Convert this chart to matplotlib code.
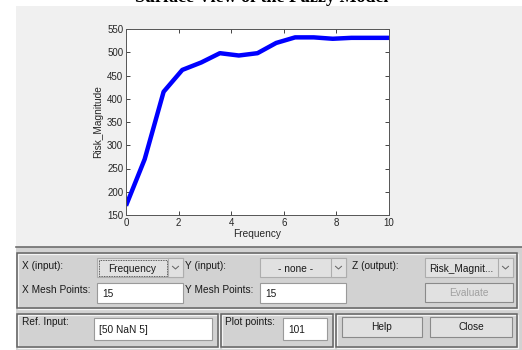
# Surface viewer screenshot: Risk_Magnitude vs Frequency with the control panel below.

import matplotlib
matplotlib.use('Agg')
import matplotlib.pyplot as plt
from matplotlib.patches import Rectangle

# --------------------------- DATA ---------------------------

frequency = [0, 0.71, 1.43, 2.14, 2.86, 3.57, 4.29, 5.0, 5.71, 6.43, 7.14, 7.86, 8.57, 9.29, 10]
risk_magnitude = [170, 270, 415, 462, 478, 498, 493, 498, 520, 532, 532, 529, 531, 531, 531]
x_ticks = [0, 2, 4, 6, 8, 10]
y_ticks = [150, 200, 250, 300, 350, 400, 450, 500, 550]

x_label = 'Frequency'
y_label = 'Risk_Magnitude'
title_text = 'Surface View of the Fuzzy Model'

# --------------------------- FIGURE ---------------------------

W, H = 522, 350
plt.rcParams['font.family'] = ['Liberation Sans', 'DejaVu Sans']
fig = plt.figure(figsize=(W / 100, H / 100), dpi=100)
fig.patch.set_facecolor('white')

# Background axes in pixel coordinates (origin top-left).
bg = fig.add_axes([0, 0, 1, 1], zorder=0)
bg.set_xlim(0, W); bg.set_ylim(H, 0); bg.axis('off')

def rect(x0, y0, x1, y1, fc='none', ec='none', lw=1.0, ls='-'):
    bg.add_patch(Rectangle((x0, y0), x1 - x0, y1 - y0, facecolor=fc, edgecolor=ec, lw=lw, ls=ls))

def frame(x0, y0, x1, y1):
    rect(x0 + 1, y0 + 1, x1 + 1, y1 + 1, ec='#f4f4f4', lw=0.9)
    rect(x0, y0, x1, y1, ec='#646464', lw=1.1)

def label(x, y, s, color='#1a1a1a', ha='left'):
    bg.text(x, y, s, fontsize=7.3, color=color, ha=ha, va='center')

def dropdown(x0, x1, y0, y1, s, focus=False):
    rect(x0, y0, x1, y1, fc='#e1e1e1', ec='#adadad', lw=0.8)
    rect(x1 - 15, y0, x1, y1, fc='#e1e1e1', ec='#adadad', lw=0.8)
    bg.plot([x1 - 10.5, x1 - 7.5, x1 - 4.5], [(y0 + y1) / 2 - 1.2, (y0 + y1) / 2 + 1.5, (y0 + y1) / 2 - 1.2], color='#606060', lw=0.7)
    if focus:
        rect(x0 + 1.5, y0 + 1.5, x1 - 16.5, y1 - 1.5, ec='#303030', lw=0.6, ls=(0, (1, 1)))
    label((x0 + x1 - 15) / 2, (y0 + y1) / 2 + 1, s, ha='center')

def textbox(x0, x1, y0, y1, s):
    rect(x0, y0, x1, y1, fc='white', ec='#9a9a9a', lw=0.8)
    label(x0 + 5, (y0 + y1) / 2 + 1, s)

def button(x0, x1, y0, y1, s, color='#1a1a1a'):
    rect(x0, y0, x1, y1, fc='#e1e1e1', ec='#8a8a8a', lw=0.8)
    label((x0 + x1) / 2, (y0 + y1) / 2, s, color=color, ha='center')

# Upper light gray panel.
rect(16, 6, W, 247, fc='#f0f0f0')

# Caption text at the very top of the picture, cut off as in the screenshot.
bg.text(262, 1.5, title_text, fontsize=13, fontweight='bold', family='Liberation Serif', ha='center', va='baseline', color='black')

# Lower control panel.
rect(16, 247, W, H, fc='#d2d2d2')
bg.plot([16, W], [246.5, 246.5], color='#6e6e6e', lw=1.2)

frame(17, 253, 517, 308)
frame(17, 314, 218, 347)
frame(221, 314, 333, 347)
frame(336, 314, 517, 347)

label(22, 266, 'X (input):')
dropdown(97, 183, 258, 277, 'Frequency', focus=True)
label(185, 266, 'Y (input):')
dropdown(260, 346, 258, 277, '- none -')
label(352, 266, 'Z (output):')
dropdown(425, 513, 258, 277, 'Risk_Magnit...')

label(22, 290, 'X Mesh Points:')
textbox(97, 183, 283, 303, '15')
label(185, 290, 'Y Mesh Points:')
textbox(260, 346, 283, 303, '15')
button(425, 513, 283, 302, 'Evaluate', color='#a0a0a0')

label(22, 322, 'Ref. Input:')
textbox(94, 212, 318, 340, '[50 NaN 5]')
label(225, 322, 'Plot points:')
textbox(283, 327, 318, 340, '101')
button(342, 422, 317, 337, 'Help')
button(430, 512, 317, 337, 'Close')

# --------------------------- PLOT ---------------------------

ax = fig.add_axes([126 / W, 1 - 215 / H, 263 / W, 186 / H], zorder=1)
ax.set_facecolor('white')
ax.plot(frequency, risk_magnitude, color='#0000ff', lw=3.2, solid_capstyle='butt')
ax.set_xlim(0, 10)
ax.set_ylim(150, 550)
ax.set_xticks(x_ticks)
ax.set_yticks(y_ticks)
ax.tick_params(direction='in', length=3, width=0.6, labelsize=7, colors='#262626', top=True, right=True, pad=2)
for s in ax.spines.values():
    s.set_color('#555555'); s.set_linewidth(0.7)
ax.set_xlabel(x_label, fontsize=7.3, color='#262626', labelpad=1)
ax.set_ylabel(y_label, fontsize=7.3, color='#262626', labelpad=3)

fig.savefig('out.png', dpi=100, facecolor='white')
